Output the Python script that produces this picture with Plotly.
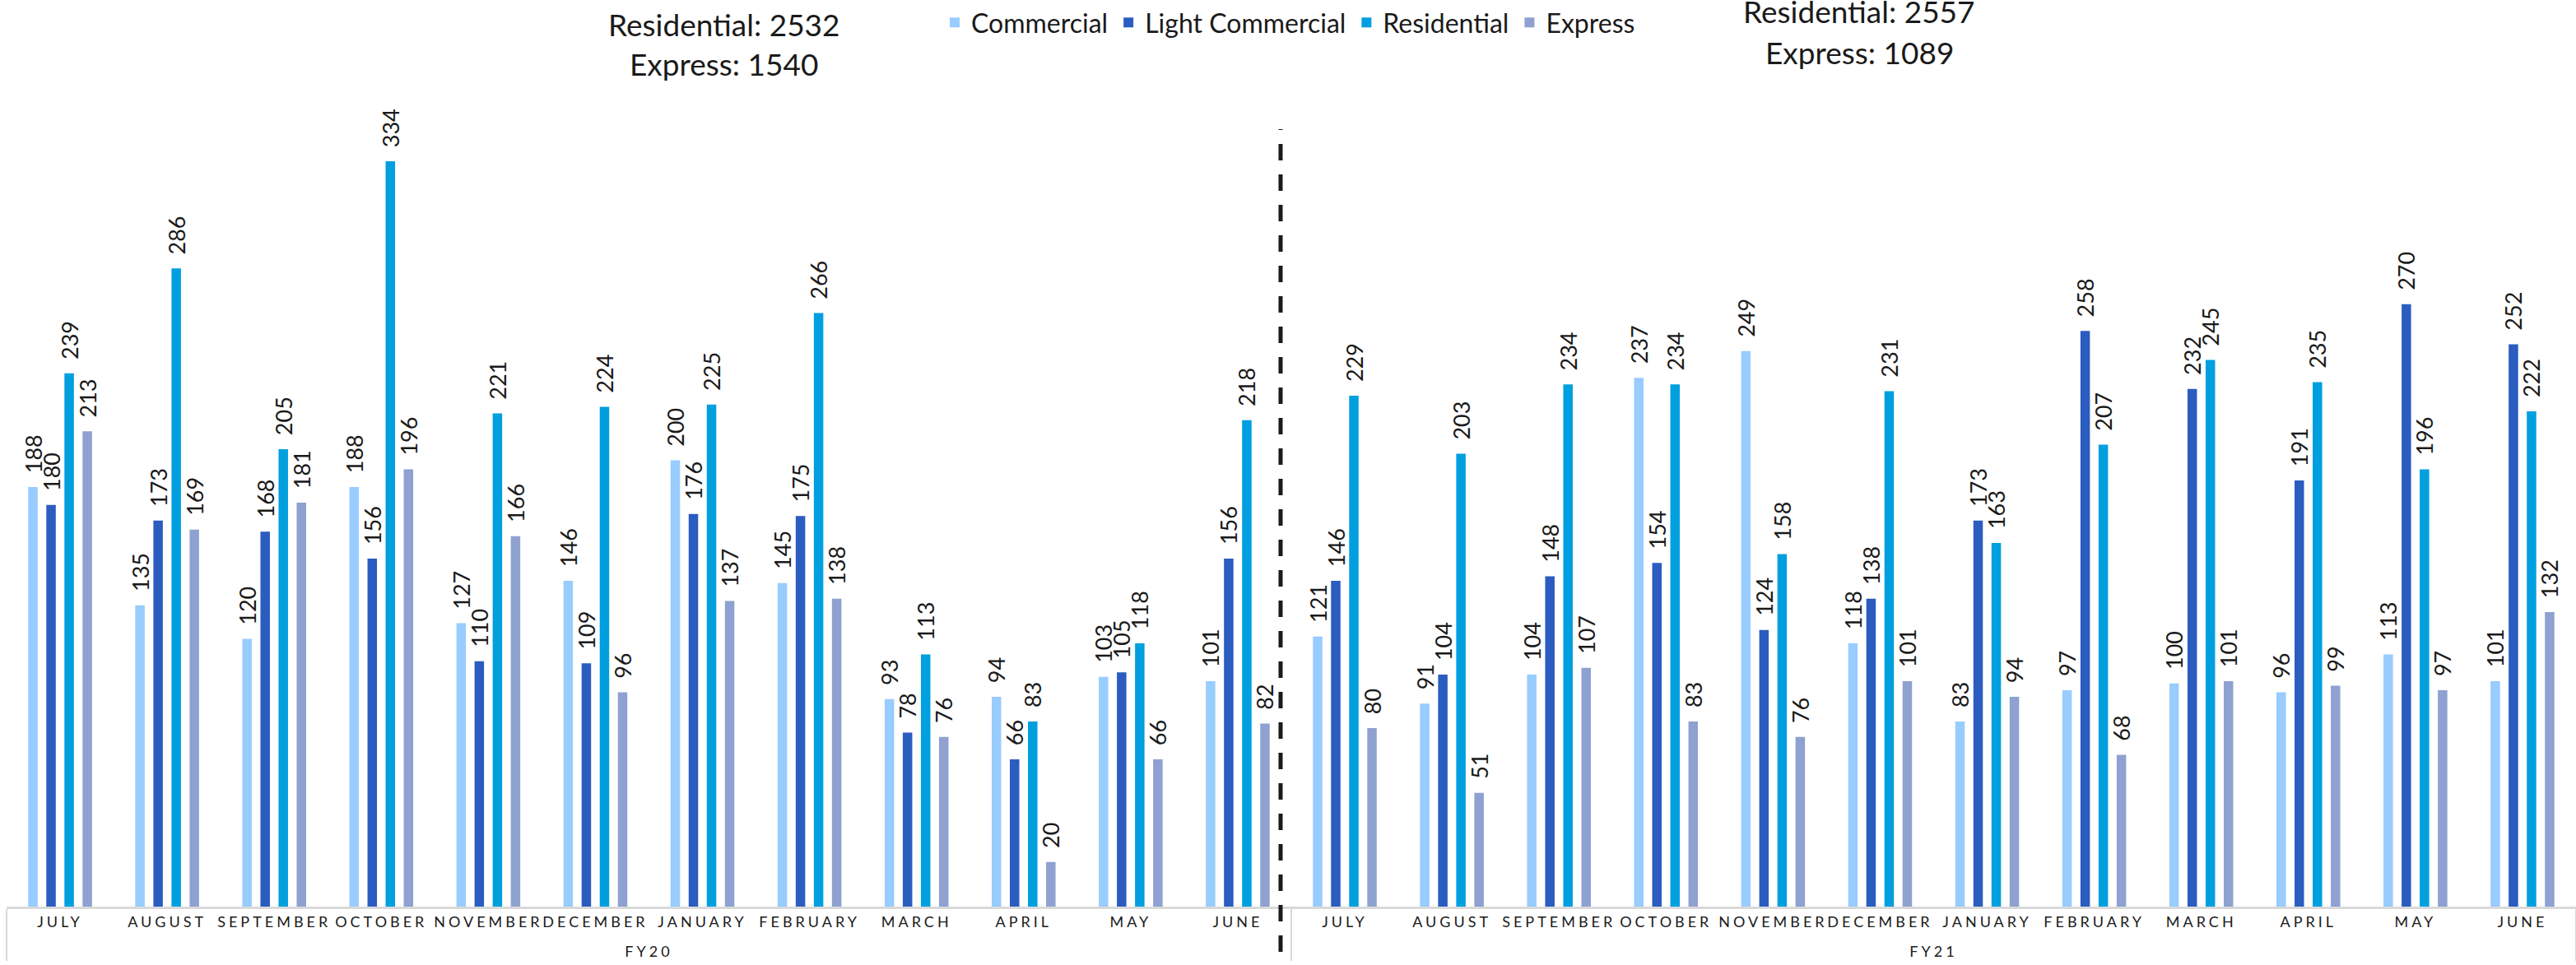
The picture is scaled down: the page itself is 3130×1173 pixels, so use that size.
import plotly.graph_objects as go

# ---------------- data ----------------
years = ["FY20", "FY21"]
months = ["JULY", "AUGUST", "SEPTEMBER", "OCTOBER", "NOVEMBER", "DECEMBER",
          "JANUARY", "FEBRUARY", "MARCH", "APRIL", "MAY", "JUNE"]

commercial = [188, 135, 120, 188, 127, 146, 200, 145, 93, 94, 103, 101,
              121, 91, 104, 237, 249, 118, 83, 97, 100, 96, 113, 101]
light_commercial = [180, 173, 168, 156, 110, 109, 176, 175, 78, 66, 105, 156,
                    146, 104, 148, 154, 124, 138, 173, 258, 232, 191, 270, 252]
residential = [239, 286, 205, 334, 221, 224, 225, 266, 113, 83, 118, 218,
               229, 203, 234, 234, 158, 231, 163, 207, 245, 235, 196, 222]
express = [213, 169, 181, 196, 166, 96, 137, 138, 76, 20, 66, 82,
           80, 51, 107, 83, 76, 101, 94, 68, 101, 99, 97, 132]

summary_fy20 = ["Residential: 2532", "Express: 1540"]
summary_fy21 = ["Residential: 2557", "Express: 1089"]

series = [
    ("Commercial", commercial, "#99CCFF"),
    ("Light Commercial", light_commercial, "#2B5CC0"),
    ("Residential", residential, "#009FDF"),
    ("Express", express, "#8EA1D0"),
]

# ---------------- figure ----------------
FONT = "Lato"
W, H = 3130, 1173
ML, MR, MT, MB = 8, 0, 110, 71
plot_h = H - MT - MB


def spaced(s, shift=None):
    style = "letter-spacing:4px"
    if shift:
        style += f";baseline-shift:{shift}"
    return f'<span style="{style}">{s}</span>'


xcat = [[spaced(y, "-12px") for y in years for _ in months],
        [spaced(m) for _ in years for m in months]]

fig = go.Figure()
for name, vals, color in series:
    fig.add_trace(go.Bar(
        name=name, x=xcat, y=vals,
        marker=dict(color=color, line=dict(width=0)),
        text=vals, texttemplate="\u00a0\u00a0%{text}",
        textposition="outside", textangle=-90,
        textfont=dict(family=FONT, size=27, color="#1a1a1a"),
        constraintext="none", cliponaxis=False,
    ))


def py(pix):
    return (H - MB - pix) / plot_h


def px_x(pix):
    return (pix - ML) / (W - ML - MR)


annotations = []
for lines, xc, ys in [(summary_fy20, 880, (28, 76)), (summary_fy21, 2259, (12, 62))]:
    for txt, yc in zip(lines, ys):
        annotations.append(dict(
            text=txt, x=px_x(xc), y=py(yc), xref="paper", yref="paper",
            xanchor="center", yanchor="middle", showarrow=False,
            font=dict(family=FONT, size=37, color="#1a1a1a"),
        ))

fig.update_layout(
    width=W, height=H,
    margin=dict(l=ML, r=MR, t=MT, b=MB, pad=0),
    paper_bgcolor="white", plot_bgcolor="white",
    barmode="group", bargap=0.323, bargroupgap=0.477,
    showlegend=True,
    legend=dict(orientation="h", x=px_x(1140), y=py(26), xanchor="left", yanchor="middle",
                font=dict(family=FONT, size=32, color="#1a1a1a"),
                bgcolor="rgba(0,0,0,0)", traceorder="normal"),
    annotations=annotations,
    shapes=[dict(type="line", xref="paper", yref="paper",
                 x0=px_x(1556), x1=px_x(1556), y0=py(1157), y1=py(156),
                 line=dict(color="#1a1a1a", width=5, dash="20px,17px"))],
    xaxis=dict(type="multicategory", showline=True, linecolor="#d9d9d9", linewidth=3,
               ticks="", tickangle=0, showgrid=False, zeroline=False,
               tickfont=dict(family=FONT, size=18, color="#1a1a1a"),
               showdividers=True, dividercolor="#d9d9d9", dividerwidth=2),
    yaxis=dict(range=[0, plot_h / 2.715], visible=False, showgrid=False, zeroline=False),
    font=dict(family=FONT),
)

fig.write_html("out.html", config={"displayModeBar": False})
